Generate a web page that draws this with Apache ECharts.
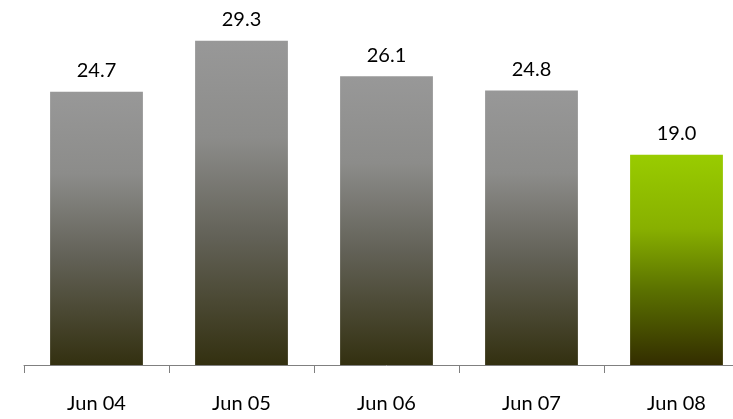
<!DOCTYPE html>
<html><head><meta charset="utf-8">
<script src="https://cdn.jsdelivr.net/npm/echarts@6/dist/echarts.min.js"></script>
<style>html,body{margin:0;padding:0;background:#fff;overflow:hidden;width:733px;height:419px}#c{width:760px;height:419px}</style>
</head><body><div id="c"></div>
<script>
const categories = ['Jun 04', 'Jun 05', 'Jun 06', 'Jun 07', 'Jun 08'];
const values = [24.7, 29.3, 26.1, 24.8, 19.0];
const highlightIndex = 4;

const grayGrad = new echarts.graphic.LinearGradient(0, 0, 0, 1, [
  {offset: 0, color: '#989898'},
  {offset: 0.3, color: '#8c8c8a'},
  {offset: 0.6, color: '#636258'},
  {offset: 1, color: '#333010'}
]);
const greenGrad = new echarts.graphic.LinearGradient(0, 0, 0, 1, [
  {offset: 0, color: '#99cc00'},
  {offset: 0.35, color: '#88b000'},
  {offset: 0.65, color: '#5a7000'},
  {offset: 1, color: '#332d00'}
]);

const chart = echarts.init(document.getElementById('c'), null, {renderer: 'canvas'});
chart.setOption({
  animation: false,
  grid: {left: 24, top: 33, width: 725, bottom: 54, containLabel: false, outerBoundsMode: 'none'},
  xAxis: {
    type: 'category',
    data: categories,
    axisLine: {lineStyle: {color: '#808080', width: 1}},
    axisTick: {show: true, length: 8, lineStyle: {color: '#808080'}},
    axisLabel: {color: '#000', fontSize: 20, fontFamily: 'Lato, "Open Sans", sans-serif', margin: 29}
  },
  yAxis: {type: 'value', min: 0, max: 30, show: false, splitLine: {show: false}},
  series: [{
    type: 'bar',
    barCategoryGap: '36%',
    data: values.map((v, i) => ({value: v, itemStyle: {color: i === highlightIndex ? greenGrad : grayGrad}})),
    label: {
      show: true, position: 'top', distance: 11,
      formatter: p => p.value.toFixed(1),
      color: '#000', fontSize: 20, fontFamily: 'Lato, "Open Sans", sans-serif'
    }
  }]
});
</script></body></html>
